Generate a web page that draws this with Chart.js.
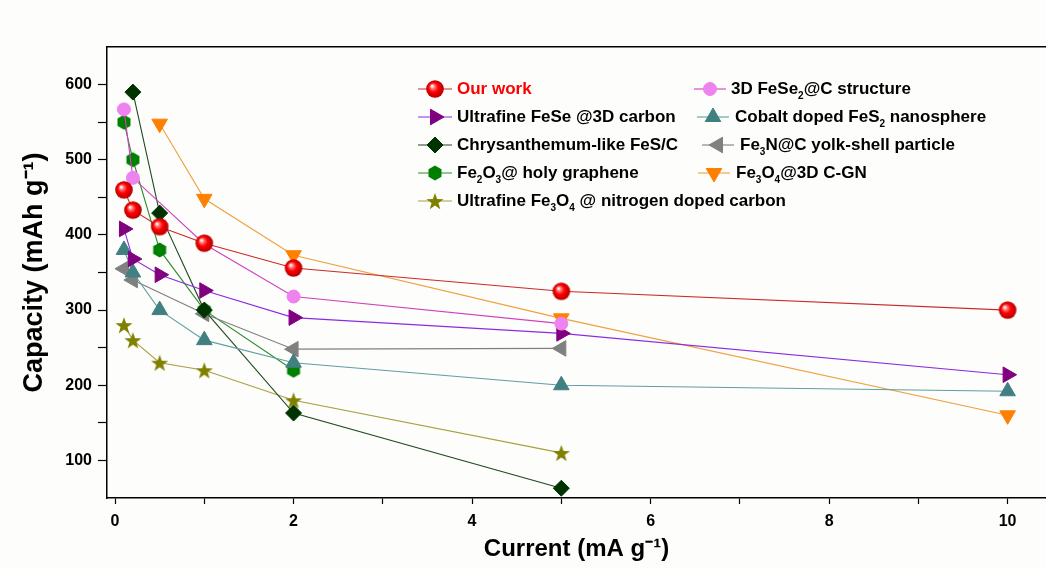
<!DOCTYPE html>
<html>
<head>
<meta charset="utf-8">
<script src="https://cdn.jsdelivr.net/npm/chart.js@4.4.1/dist/chart.umd.min.js"></script>
<style>
  html, body { margin: 0; padding: 0; background: #fdfdfb; }
  #wrap { width: 1046px; height: 569px; }
</style>
</head>
<body>
<div id="wrap"><canvas id="rateChart"></canvas></div>
<script>
// values: current (mA g-1) -> capacity (mAh g-1)
const ourWorkX = [0.1, 0.2, 0.5, 1, 2, 5, 10]
const ourWorkY = [460, 433, 411, 389, 356, 325, 300]
const feSe2X = [0.1, 0.2, 1, 2, 5]
const feSe2Y = [567, 476, 388, 318, 282]
const feSeX = [0.1, 0.2, 0.5, 1, 2, 5, 10]
const feSeY = [408, 368, 347, 326, 290, 269, 214]
const coFeS2X = [0.1, 0.2, 0.5, 1, 2, 5, 10]
const coFeS2Y = [380, 350, 300, 260, 230, 200, 192]
const fesCX = [0.2, 0.5, 1, 2, 5]
const fesCY = [590, 429, 300, 163, 63]
const fe3NX = [0.1, 0.2, 1, 2, 5]
const fe3NY = [355, 340, 295, 248, 249]
const fe2O3X = [0.1, 0.2, 0.5, 1, 2]
const fe2O3Y = [550, 500, 380, 300, 220]
const fe3O4GNX = [0.5, 1, 2, 5, 10]
const fe3O4GNY = [548, 448, 373, 289, 160]
const fe3O4NCX = [0.1, 0.2, 0.5, 1, 2, 5]
const fe3O4NCY = [280, 260, 230, 220, 180, 110]

// axis ticks (labels only on every other one)
const xTickValues = [0, 1, 2, 3, 4, 5, 6, 7, 8, 9, 10]
const yTickValues = [100, 150, 200, 250, 300, 350, 400, 450, 500, 550, 600]

// "_d" marks a subscript digit
const legendLabels = [
    'Our work', '3D FeSe_2@C structure',
    'Ultrafine FeSe @3D carbon', 'Cobalt doped FeS_2 nanosphere',
    'Chrysanthemum-like FeS/C', 'Fe_3N@C yolk-shell particle',
    'Fe_2O_3@ holy graphene', 'Fe_3O_4@3D C-GN',
    'Ultrafine Fe_3O_4 @ nitrogen doped carbon'
]

const FONT = "'Liberation Sans', Arial, sans-serif"

function makeMarker(size, draw) {
    const c = document.createElement('canvas')
    c.width = c.height = size
    draw(c.getContext('2d'), size / 2)
    return c
}

const redBall = makeMarker(20, (ctx, c) => {
    const g = ctx.createRadialGradient(c - 3, c - 3, 0.5, c, c, 9)
    g.addColorStop(0, '#ffffff')
    g.addColorStop(0.22, '#ff7070')
    g.addColorStop(0.5, '#ff0000')
    g.addColorStop(1, '#b00000')
    ctx.fillStyle = g
    ctx.beginPath(); ctx.arc(c, c, 8.8, 0, Math.PI * 2); ctx.fill()
})

const hexagon = makeMarker(18, (ctx, c) => {
    ctx.fillStyle = '#008000'
    ctx.beginPath()
    for (let k = 0; k < 6; k++) {
        const a = -Math.PI / 2 + k * Math.PI / 3
        ctx.lineTo(c + 7.5 * Math.cos(a), c + 7.5 * Math.sin(a))
    }
    ctx.closePath(); ctx.fill()
})

const star = makeMarker(20, (ctx, c) => {
    ctx.fillStyle = '#808000'
    ctx.beginPath()
    for (let k = 0; k < 10; k++) {
        const a = -Math.PI / 2 + k * Math.PI / 5
        const r = k % 2 ? 3.6 : 9
        ctx.lineTo(c + r * Math.cos(a), c + 1 + r * Math.sin(a))
    }
    ctx.closePath(); ctx.fill()
})

function points(xs, ys) {
    return xs.map((x, i) => ({x, y: ys[i]}))
}

function series(i, xs, ys, line, fill, style, radius, rotation) {
    return {
        label: legendLabels[i].replace(/_/g, ''),
        data: points(xs, ys),
        showLine: true,
        borderColor: line,
        borderWidth: 1.1,
        pointBackgroundColor: fill,
        pointBorderColor: fill,
        pointBorderWidth: 1,
        pointStyle: style,
        pointRadius: radius,
        pointRotation: rotation || 0
    }
}

const datasets = [
    series(0, ourWorkX, ourWorkY, '#cc2a2a', '#ff0000', redBall, 9),
    series(1, feSe2X, feSe2Y, '#d040c0', '#ee82ee', 'circle', 6.5),
    series(2, feSeX, feSeY, '#8a2be2', '#800080', 'triangle', 9, 90),
    series(3, coFeS2X, coFeS2Y, '#5f9ea0', '#408080', 'triangle', 9),
    series(4, fesCX, fesCY, '#1f4a1f', '#003300', 'rectRot', 8),
    series(5, fe3NX, fe3NY, '#808080', '#808080', 'triangle', 9, 270),
    series(6, fe2O3X, fe2O3Y, '#2e8b2e', '#008000', hexagon, 8),
    series(7, fe3O4GNX, fe3O4GNY, '#eea040', '#ff8000', 'triangle', 9, 180),
    series(8, fe3O4NCX, fe3O4NCY, '#a8a040', '#808000', star, 9)
]

function drawRichText(ctx, text, x, y, color) {
    const parts = text.split(/_(\d)/)
    ctx.fillStyle = color
    ctx.textBaseline = 'middle'
    ctx.textAlign = 'left'
    parts.forEach((p, k) => {
        if (k % 2) {
            ctx.font = 'bold 10px ' + FONT
            ctx.fillText(p, x, y + 7)
        } else {
            ctx.font = 'bold 17px ' + FONT
            ctx.fillText(p, x, y)
        }
        x += ctx.measureText(p).width
    })
}

const insetLegend = {
    id: 'insetLegend',
    afterDatasetsDraw(chart, args, opts) {
        const ctx = chart.ctx
        chart.data.datasets.forEach((ds, i) => {
            const [x0, x1, y, tx] = opts.slots[i]
            ctx.save()
            ctx.strokeStyle = ds.borderColor
            ctx.lineWidth = 1.1
            ctx.beginPath(); ctx.moveTo(x0, y); ctx.lineTo(x1, y); ctx.stroke()
            ctx.fillStyle = ds.pointBackgroundColor
            ctx.strokeStyle = ds.pointBorderColor
            ctx.lineWidth = 1
            Chart.helpers.drawPoint(ctx, {
                pointStyle: ds.pointStyle, radius: ds.pointRadius,
                rotation: ds.pointRotation, borderWidth: 1
            }, (x0 + x1) / 2, y)
            drawRichText(ctx, legendLabels[i], tx, y, i === 0 ? '#ff0000' : '#000000')
            ctx.restore()
        })
    }
}

const X_MIN = -0.09, X_MAX = 10.43

new Chart('rateChart', {
    type: 'scatter',
    data: {datasets},
    plugins: [insetLegend],
    options: {
        animation: false,
        events: [],
        responsive: true,
        maintainAspectRatio: false,
        devicePixelRatio: 1,
        layout: {autoPadding: false, padding: {top: 47, left: 0, right: 0, bottom: 0}},
        plugins: {
            legend: {display: false},
            tooltip: {enabled: false},
            insetLegend: {
                slots: [
                    [418, 452, 89, 457], [694, 726, 89, 731],
                    [418, 452, 117, 457], [697, 729, 117, 735],
                    [418, 452, 145, 457], [702, 734, 145, 740],
                    [418, 452, 173, 457], [698, 730, 173, 736],
                    [418, 452, 201, 457]
                ]
            }
        },
        scales: {
            x: {
                type: 'linear',
                min: X_MIN, max: X_MAX,
                afterBuildTicks: s => { s.ticks = xTickValues.map(v => ({value: v})) },
                afterFit: s => { s.height = 71; s.paddingRight = 0; s.paddingLeft = 0 },
                ticks: {
                    autoSkip: false, maxRotation: 0, padding: 8,
                    color: '#000', font: {family: FONT, size: 16, weight: 'bold'},
                    callback: v => v % 2 === 0 ? String(v) : ''
                },
                grid: {drawOnChartArea: false, drawTicks: true, tickLength: 6, color: '#000', tickWidth: 1.2},
                border: {color: '#000', width: 1.5},
                title: {
                    display: true, text: 'Current (mA g\u207B\u00B9)', color: '#000',
                    font: {family: FONT, size: 24, weight: 'bold'},
                    padding: {top: 0, bottom: 5}
                }
            },
            xTop: {
                type: 'linear', position: 'top', display: true,
                min: X_MIN, max: X_MAX,
                afterFit: s => { s.height = 0; s.paddingRight = 0; s.paddingLeft = 0 },
                ticks: {display: false},
                grid: {display: false, drawTicks: false},
                border: {display: true, color: '#000', width: 1.5}
            },
            y: {
                type: 'linear',
                min: 50, max: 650,
                afterBuildTicks: s => { s.ticks = yTickValues.map(v => ({value: v})) },
                afterFit: s => { s.width = 107 },
                ticks: {
                    autoSkip: false, padding: 6,
                    color: '#000', font: {family: FONT, size: 16, weight: 'bold'},
                    callback: v => v % 100 === 0 ? String(v) : ''
                },
                grid: {drawOnChartArea: false, drawTicks: true, tickLength: 9, color: '#000', tickWidth: 1.2},
                border: {color: '#000', width: 1.5},
                title: {
                    display: true, text: 'Capacity (mAh g\u207B\u00B9)', color: '#000',
                    font: {family: FONT, size: 27, weight: 'bold'},
                    padding: {top: 18, bottom: 0}
                }
            }
        }
    }
})
</script>
</body>
</html>
